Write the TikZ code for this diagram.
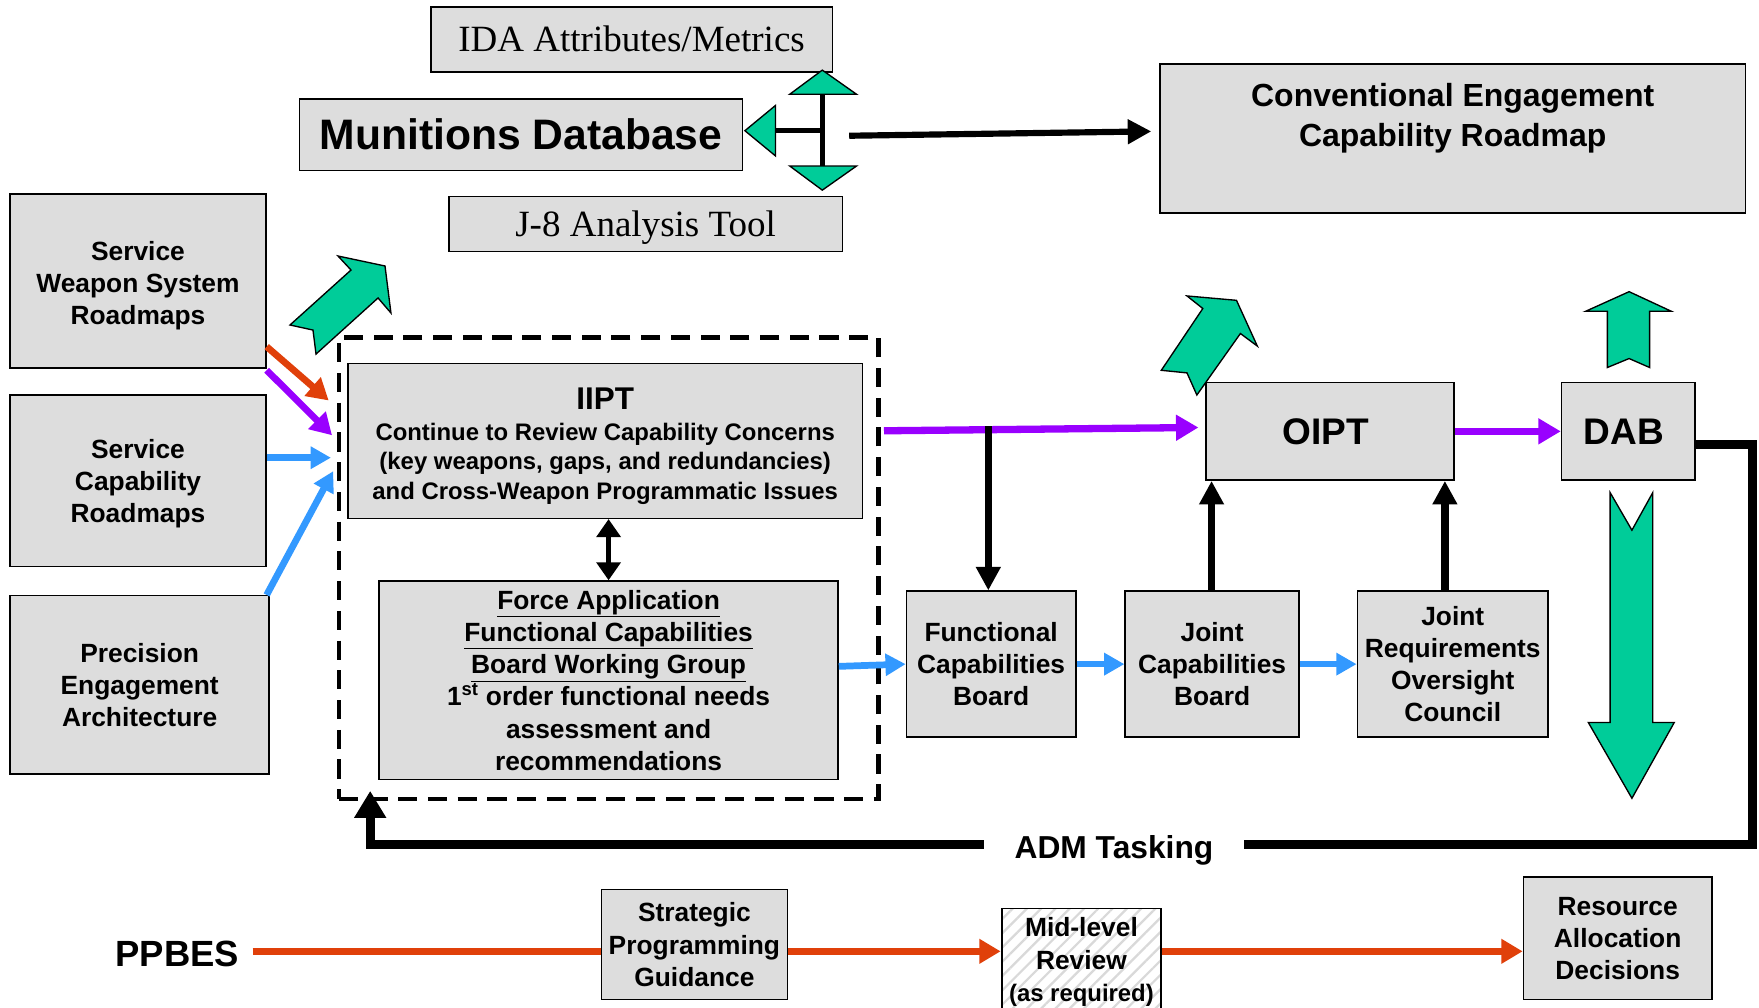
\documentclass[tikz,border=0pt]{standalone}
\usepackage{fontspec}
\setmainfont{Liberation Sans}
\newfontfamily\tms{Liberation Serif}
\usetikzlibrary{arrows.meta,patterns.meta}
\definecolor{boxgray}{HTML}{DDDDDD}
\definecolor{grn}{HTML}{00CC99}
\definecolor{org}{HTML}{E0400A}
\definecolor{pur}{HTML}{9900FF}
\definecolor{blu}{HTML}{3399FF}
\begin{document}
\begin{tikzpicture}[x=1pt,y=-1pt,
  box/.style={draw=black, line width=1.4pt, fill=boxgray, align=center, inner sep=0pt,
    font=\bfseries\fontsize{23.5}{28.7}\selectfont},
  garrow/.style={fill=grn, draw=black, line width=1.2pt, line join=miter},
  oarr/.style={draw=org, line width=6pt, -{Triangle[length=19pt,width=21pt]}},
  parr/.style={draw=pur, line width=6.5pt, -{Triangle[length=20pt,width=22pt]}},
  barr/.style={draw=blu, line width=6pt, -{Triangle[length=18pt,width=19pt]}},
  karr/.style={draw=black, line width=6.5pt, -{Triangle[length=21pt,width=21pt]}},
  txt/.style={inner sep=0pt, align=center}
]
\useasboundingbox (0,0) rectangle (1568,898);
\fill[white] (0,0) rectangle (1568,898);

% ---------- top group ----------
\node (ida) [box, font=\tms\fontsize{33}{36}\selectfont, text height=22pt, text depth=0pt, minimum width=358pt, minimum height=58pt] at (563,35) {IDA Attributes/Metrics};
\node (mdb) [box, font=\bfseries\fontsize{38}{40}\selectfont, text height=27pt, text depth=0pt, minimum width=395pt, minimum height=64pt] at (464.5,120) {Munitions Database};
\node (j8) [box, font=\tms\fontsize{33}{36}\selectfont, text height=22pt, text depth=0pt, minimum width=351pt, minimum height=49pt] at (575.5,199.5) {J-8 Analysis Tool};

\coordinate (ct) at (733,84);
\coordinate (cb) at (733,148);
\coordinate (cl) at (691.3,116.5);
\coordinate (cm) at (733,116.5);
\draw[line width=4pt] (ct) -- (cb);
\draw[line width=4pt] (cl) -- (cm);
\draw[garrow] (733,62.5) -- (704,84) -- (763.5,84) -- cycle;
\draw[garrow] (704,148) -- (763.5,148) -- (733,169.5) -- cycle;
\draw[garrow] (664,116.5) -- (691.3,94) -- (691.3,139) -- cycle;

\node (ceb) [box, minimum width=522pt, minimum height=133pt] at (1295,123.5) {};
\node (cebt) [txt, font=\bfseries\fontsize{28.5}{35}\selectfont] at (1295,105.5) {Conventional Engagement\\Capability Roadmap};
\coordinate (cr) at (757,121);
\draw[karr, line width=5.5pt, shorten >=7pt] (cr) -- (ceb.west |- 0,117);

% ---------- left boxes ----------
\node (sw) [box, minimum width=228pt, minimum height=155pt] at (123,250.5) {};
\node (swt) [txt, font=\bfseries\fontsize{23.5}{28.7}\selectfont] at (123,254.5) {Service\\Weapon System\\Roadmaps};
\node (sc) [box, minimum width=228pt, minimum height=153pt] at (123,428.5) {};
\node (sct) [txt, font=\bfseries\fontsize{23.5}{28.7}\selectfont] at (123,431) {Service\\Capability\\Roadmaps};
\node (pe) [box, minimum width=231pt, minimum height=159pt] at (124.5,610.5) {Precision\\Engagement\\Architecture};

% green arrows
\draw[garrow] (258.5,289.7) -- (312.9,240.7) -- (301.3,228.2) -- (343.2,237.1) -- (348.5,279.0) -- (337.0,265.6) -- (281.7,315.6) -- (279.0,294.2) -- cycle;
\draw[garrow] (1035.2,330.1) -- (1072.2,275.0) -- (1058.1,263.8) -- (1102.2,267.7) -- (1120.8,308.5) -- (1105.7,297.3) -- (1066.9,352.1) -- (1058.1,332.4) -- cycle;
\draw[garrow] (1432.8,327.6) -- (1432.8,277.5) -- (1413.4,277.5) -- (1452.2,260.0) -- (1489.9,277.5) -- (1470.5,277.5) -- (1470.5,327.6) -- (1452.2,319.6) -- cycle;
\draw[garrow] (1435.3,439.1) -- (1454.7,472.6) -- (1473.3,439.1) -- (1473.3,644.1) -- (1492.4,644.1) -- (1454.7,711.6) -- (1415.9,644.1) -- (1435.3,644.1) -- cycle;

% ---------- dashed group ----------
\node (dbox) [draw=black, line width=4pt, dash pattern=on 17pt off 9.5pt, minimum width=481pt, minimum height=411pt, inner sep=0pt] at (542.5,506.5) {};
\node (iipt) [box, minimum width=459pt, minimum height=138pt] at (539.5,393) {};
\node (iiptt) [txt, font=\bfseries\fontsize{21.3}{26}\selectfont] at (539.5,397.5)
  {{\fontsize{28}{26}\selectfont IIPT}\\[2pt]Continue to Review Capability Concerns\\(key weapons, gaps, and redundancies)\\and Cross-Weapon Programmatic Issues};
\node (fa) [box, minimum width=409pt, minimum height=177pt] at (542.5,606.5)
  {\underline{Force Application}\\\underline{Functional Capabilities}\\\underline{Board Working Group}\\1\textsuperscript{st} order functional needs\\assessment and\\recommendations};
\draw[line width=5pt, {Triangle[length=16pt,width=21pt]}-{Triangle[length=16pt,width=21pt]}] (iipt.south -| fa.north) -- (fa.north);

% inputs into dashed group
\coordinate (in1) at (293,357);
\coordinate (in2) at (296,388);
\coordinate (in3) at (295,408);
\coordinate (in4) at (297,420);
\draw[oarr] (sw.east |- 0,309) -- (in1);
\draw[parr, line width=6pt, -{Triangle[length=19pt,width=21pt]}] (sw.east |- 0,330) -- (in2);
\draw[barr] (sc.east |- 0,408) -- (in3);
\draw[barr] ([xshift=-3pt]pe.north east) -- (in4);

% ---------- right side ----------
\node (oipt) [box, font=\bfseries\fontsize{33}{36}\selectfont, minimum width=221pt, minimum height=87pt] at (1185.5,384.5) {\hspace*{-8pt}OIPT};
\node (dab) [box, font=\bfseries\fontsize{33}{36}\selectfont, minimum width=119pt, minimum height=87pt] at (1451.5,384.5) {\hspace*{-8pt}DAB};
\node (fcb) [box, minimum width=151pt, minimum height=130pt] at (883.5,592) {Functional\\Capabilities\\Board};
\node (jcb) [box, minimum width=155pt, minimum height=130pt] at (1080.5,592) {Joint\\Capabilities\\Board};
\node (jroc) [box, minimum width=170pt, minimum height=130pt] at (1295,592) {Joint\\Requirements\\Oversight\\Council};

\draw[parr, shorten >=6pt] ([xshift=3pt]dbox.east |- 0,384) -- (oipt.west |- 0,381);
\draw[parr] (oipt.east) -- (dab.west);
\coordinate (tap) at (881,380);
\draw[karr] (tap) -- (tap |- fcb.north);
\draw[karr] (jcb.north -| 1080,0) -- (oipt.south -| 1080,0);
\draw[karr] (jroc.north -| 1288,0) -- (oipt.south -| 1288,0);
\draw[barr] (fa.east |- 0,594) -- (fcb.west);
\draw[barr] (fcb.east) -- (jcb.west);
\draw[barr] (jcb.east) -- (jroc.west);

% ADM tasking loop
\draw[line width=8pt, line join=miter, -{Triangle[length=24pt,width=27pt]}, shorten >=-9pt]
  (dab.east |- 0,396) -- (1562,396) -- (1562,753) -- (330,753) -- (dbox.south -| 330,0);
\node (adm) [fill=white, inner xsep=27pt, inner ysep=6pt, font=\bfseries\fontsize{28.3}{30}\selectfont] at (993,758) {ADM Tasking};

% ---------- PPBES row ----------
\node (ppbes) [txt, font=\bfseries\fontsize{32.5}{34}\selectfont] at (158,850) {PPBES};
\node (spg) [box, minimum width=166pt, minimum height=98pt] at (619,842) {Strategic\\Programming\\Guidance};
\node (mlr) [box, fill=none, pattern={Lines[angle=45,distance=9pt,line width=2pt]}, pattern color=gray!30, minimum width=142pt, minimum height=95pt] at (964,857.5)
  {Mid-level\\Review\\{\fontsize{21.3}{26}\selectfont (as required)}};
\node (rad) [box, minimum width=168pt, minimum height=109pt] at (1442,836.5) {Resource\\Allocation\\Decisions};
\draw[draw=org, line width=6pt] ([xshift=12pt]ppbes.east |- 0,848) -- (spg.west |- 0,848);
\draw[oarr] (spg.east |- 0,848) -- (mlr.west |- 0,848);
\draw[oarr] (mlr.east |- 0,848) -- (rad.west |- 0,848);
\end{tikzpicture}
\end{document}
